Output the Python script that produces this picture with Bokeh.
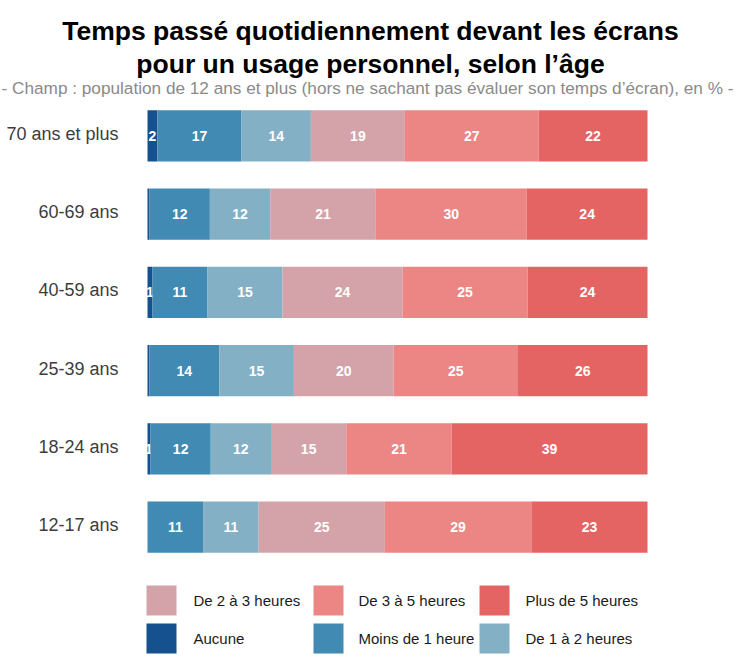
from bokeh.plotting import figure
from bokeh.models import FactorRange, Range1d, Label, ColumnDataSource
from bokeh.core.properties import value
from bokeh.embed import file_html
from bokeh.resources import INLINE
import numpy as np

# ---- data ----
categories = ["70 ans et plus", "60-69 ans", "40-59 ans", "25-39 ans", "18-24 ans", "12-17 ans"]
series = ["Aucune", "Moins de 1 heure", "De 1 à 2 heures",
          "De 2 à 3 heures", "De 3 à 5 heures", "Plus de 5 heures"]
aucune = [2, 0.4, 1, 0.4, 0.6, 0]
moins_1h = [17, 12, 11, 14, 12, 11]
de_1_a_2h = [14, 12, 15, 15, 12, 11]
de_2_a_3h = [19, 21, 24, 20, 15, 25]
de_3_a_5h = [27, 30, 25, 25, 21, 29]
plus_5h = [22, 24, 24, 26, 39, 23]
colors = ["#15508f", "#418ab3", "#83b0c5", "#d4a3a9", "#eb8685", "#e46464"]

title1 = "Temps passé quotidiennement devant les écrans"
title2 = "pour un usage personnel, selon l’âge"
subtitle = "- Champ : population de 12 ans et plus (hors ne sachant pas évaluer son temps d’écran), en % -"

FONT = "Liberation Sans"
W, H = 743, 662

# ---- ranges / helpers ----
X0, PX_PER_X = -29.4, 5.0
x_range = Range1d(X0, X0 + W / PX_PER_X)
PAD = 1.23
y_range = FactorRange(factors=categories[::-1], range_padding=PAD,
                      range_padding_units="absolute")
Y0, Y1 = -PAD, len(categories) + PAD
PX_PER_Y = H / (Y1 - Y0)


def xs(px):
    return X0 + px / PX_PER_X


def ys(py):
    return Y0 + (H - py) / PX_PER_Y


p = figure(width=W, height=H, x_range=x_range, y_range=y_range,
           output_backend="svg", toolbar_location=None, min_border=0)
p.axis.visible = False
p.grid.visible = False
p.outline_line_color = None
p.background_fill_color = "white"
p.border_fill_color = "white"

vals = np.array([aucune, moins_1h, de_1_a_2h, de_2_a_3h, de_3_a_5h, plus_5h], dtype=float)
totals = vals.sum(axis=0)
shares = vals / totals * 100
cum = np.vstack([np.zeros(len(categories)), np.cumsum(shares, axis=0)])

for j, name in enumerate(series):
    src = ColumnDataSource(dict(y=categories, left=cum[j], right=cum[j + 1]))
    p.hbar(y="y", left="left", right="right", height=0.652, source=src,
           fill_color=colors[j], line_color=None)
    lx, ly, lt = [], [], []
    for i, c in enumerate(categories):
        r = int(round(vals[j, i]))
        if r >= 1:
            lx.append((cum[j, i] + cum[j + 1, i]) / 2)
            ly.append(c)
            lt.append(str(r))
    p.text(x=lx, y=ly, text=lt, text_align="center", text_baseline="middle",
           text_color="white", text_font=value(FONT), text_font_style="bold",
           text_font_size="14px")

# category labels
p.text(x=[xs(118)] * len(categories), y=categories, text=categories,
       text_align="right", text_baseline="middle", text_color="#3d3d3d",
       text_font=value(FONT), text_font_size="18px", y_offset=-2)

# titles
cx = xs(370)
p.add_layout(Label(x=cx, y=ys(30), text=title1, text_align="center",
                   text_baseline="alphabetic", text_font=FONT,
                   text_font_style="bold", text_font_size="26.5px", text_color="#000000"))
p.add_layout(Label(x=cx, y=ys(63), text=title2, text_align="center",
                   text_baseline="alphabetic", text_font=FONT,
                   text_font_style="bold", text_font_size="26.5px", text_color="#000000"))
p.add_layout(Label(x=xs(367), y=ys(87), text=subtitle, text_align="center",
                   text_baseline="alphabetic", text_font=FONT,
                   text_font_size="17.2px", text_color="#8a8a8a"))

# legend (3 columns, upper row = last three series)
col_sq = [161, 328, 494]
col_tx = [193, 358, 525]
row_y = [638, 600]
sq_x, sq_y, sq_c, tx_x, tx_y, tx_t = [], [], [], [], [], []
for j, name in enumerate(series):
    col, row = j % 3, j // 3
    sq_x.append(xs(col_sq[col]))
    sq_y.append(ys(row_y[row]))
    sq_c.append(colors[j])
    tx_x.append(xs(col_tx[col]))
    tx_y.append(ys(row_y[row]))
    tx_t.append(name)
p.scatter(x=sq_x, y=sq_y, marker="square", size=30, fill_color=sq_c, line_color=None)
p.text(x=tx_x, y=tx_y, text=tx_t, text_align="left", text_baseline="middle",
       text_color="#1a1a1a", text_font=value(FONT), text_font_size="15px")

open("out.html", "w").write(file_html(p, INLINE))
